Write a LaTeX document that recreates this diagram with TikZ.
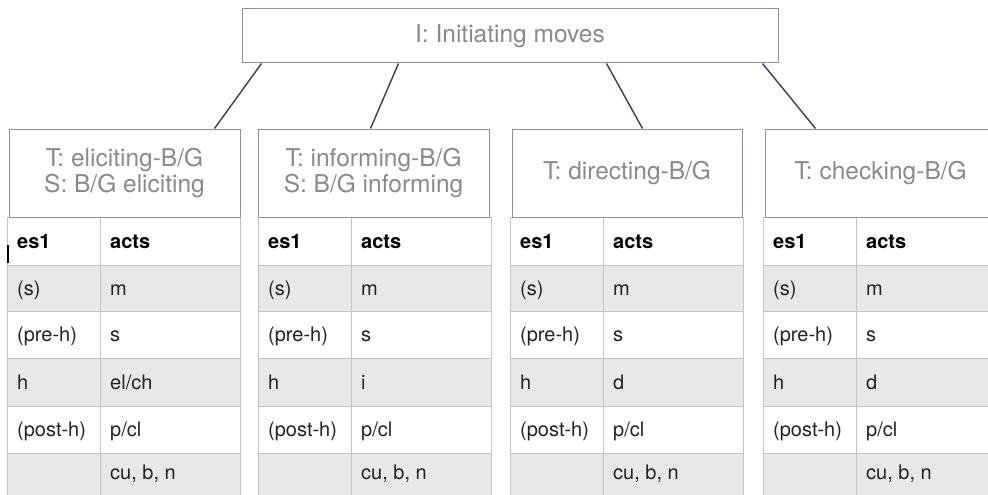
\documentclass[tikz,border=0pt]{standalone}
\usepackage{fontspec}
\setmainfont{TeX Gyre Heros}
\usetikzlibrary{calc}
\definecolor{boxline}{HTML}{8E9199}
\definecolor{gridline}{HTML}{C4C4C4}
\definecolor{rowgrey}{HTML}{E8E8E8}
\definecolor{titletext}{HTML}{8A8A8A}
\definecolor{celltext}{HTML}{222222}
\definecolor{connc}{HTML}{3C3B5E}
\begin{document}
\begin{tikzpicture}[x=1pt,y=-1pt,
  titlebox/.style={draw=boxline,line width=1pt,fill=white,font=\fontsize{24.5}{26}\selectfont,text=titletext,align=center,inner sep=0pt},
  connector/.style={draw=connc,line width=1.4pt},
  cell/.style={anchor=base west,inner sep=0pt,font=\fontsize{20}{22}\selectfont,text=celltext},
  headcell/.style={anchor=base west,inner sep=0pt,font=\fontsize{20}{22}\selectfont\bfseries,text=black},
  gridl/.style={draw=gridline,line width=1pt}]
\path[use as bounding box] (0,0) rectangle (988,495);
\clip (0,0) rectangle (988,495);
\fill[white] (0,0) rectangle (988,495);

% tables
\foreach \k/\L/\hv in {1/7/{el/ch},2/258/i,3/510/d,4/763/d}{
  \fill[rowgrey] (\L,265) rectangle (\L+233,311);
  \fill[rowgrey] (\L,358) rectangle (\L+233,406);
  \fill[rowgrey] (\L,453) rectangle (\L+233,500);
  \foreach \yy in {217,265,311,358,406,453}{
    \draw[gridl] (\L,\yy) -- (\L+233,\yy);
  }
  \draw[gridl] (\L,217) -- (\L,500);
  \draw[gridl] (\L+93,217) -- (\L+93,500);
  \draw[gridl] (\L+233,217) -- (\L+233,500);
  \node[headcell] (h\k a) at (\L+10,248) {es1};
  \node[headcell] (h\k b) at (\L+103,248) {acts};
  \node[cell] (r\k a1) at (\L+10,295) {(s)};
  \node[cell] (r\k b1) at (\L+103,295) {m};
  \node[cell] (r\k a2) at (\L+10,341.5) {(pre-h)};
  \node[cell] (r\k b2) at (\L+103,341.5) {s};
  \node[cell] (r\k a3) at (\L+10,389) {h};
  \node[cell] (r\k b3) at (\L+103,389) {\hv};
  \node[cell] (r\k a4) at (\L+10,436.5) {(post-h)};
  \node[cell] (r\k b4) at (\L+103,436.5) {p/cl};
  \node[cell] (r\k b5) at (\L+103,479.5) {cu, b, n};
}

% title boxes
\node[titlebox,minimum width=536pt,minimum height=54pt] (I) at (510,36) {I: Initiating moves};
\node[titlebox,minimum width=231pt,minimum height=88pt] (T1) at (124.5,173) {T: eliciting-B/G\\S: B/G eliciting};
\node[titlebox,minimum width=231pt,minimum height=88pt] (T2) at (373.5,173) {T: informing-B/G\\S: B/G informing};
\node[titlebox,minimum width=230pt,minimum height=88pt] (T3) at (627,173) {T: directing-B/G};
\node[titlebox,minimum width=231pt,minimum height=88pt] (T4) at (880.5,173) {T: checking-B/G};

% connectors
\draw[connector] ([xshift=20pt]I.south west) -- ([xshift=206pt]T1.north west);
\draw[connector] ([xshift=157pt]I.south west) -- ([xshift=113pt]T2.north west);
\draw[connector] ([xshift=365pt]I.south west) -- ([xshift=131pt]T3.north west);
\draw[connector] ([xshift=521pt]I.south west) -- ([xshift=51pt]T4.north west);

% text cursor mark
\draw[black,line width=1.8pt] (8,245) -- (8,263);
\end{tikzpicture}
\end{document}
